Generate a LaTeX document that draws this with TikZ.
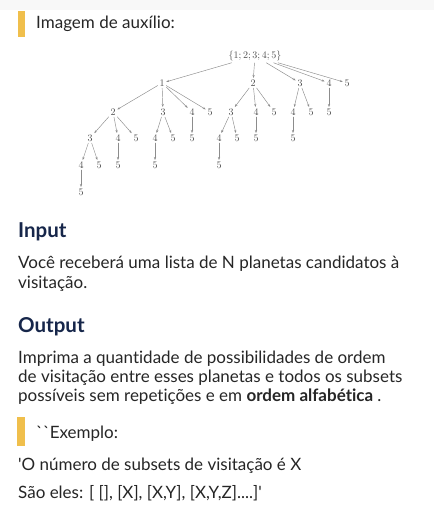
\documentclass[tikz,border=0pt]{standalone}
\usepackage{fontspec}
\setmainfont{Lato}[Ligatures={NoCommon}]
\usetikzlibrary{arrows.meta}
\definecolor{barYellow}{HTML}{F0BF4C}
\definecolor{headNavy}{HTML}{16264A}
\definecolor{bodyInk}{HTML}{262626}
\definecolor{stripGray}{HTML}{F8F8F8}
\tikzset{
  tnode/.style={font=\fontsize{9.6}{10}\selectfont,text=black!70,inner sep=1.6pt},
  tedge/.style={->,black!45,line width=0.45pt},
  bodytxt/.style={anchor=base west,inner sep=0pt,text=bodyInk,font=\fontsize{17}{19}\selectfont},
  headtxt/.style={anchor=base west,inner sep=0pt,text=headNavy,font=\fontsize{20.5}{24}\selectfont\bfseries}
}

\begin{document}
\begin{tikzpicture}[x=1pt,y=-1pt,>={Stealth[length=3pt,width=2.2pt]},line cap=round,line join=round]
\useasboundingbox[fill=white] (0,0) rectangle (434,513);
\fill[stripGray] (0,0) rectangle (434,10);
% quote bars
\fill[barYellow] (18,11) rectangle (25,37);
\fill[barYellow] (17,417) rectangle (25,446);
\node[bodytxt] (cap) at (36,29) {Imagem de auxílio:};
% tree of subsets
\node[tnode] (r) at (255,56) {$\{1;2;3;4;5\}$};
\node[tnode] (a1) at (162,83) {$1$};
\node[tnode] (a2) at (253,83) {$2$};
\node[tnode] (a3) at (300,83) {$3$};
\node[tnode] (a4) at (329,83) {$4$};
\node[tnode] (a5) at (347,83) {$5$};
\node[tnode] (a12) at (113,112) {$2$};
\node[tnode] (a13) at (163,112) {$3$};
\node[tnode] (a14) at (192,112) {$4$};
\node[tnode] (a15) at (210,112) {$5$};
\node[tnode] (a23) at (231,112) {$3$};
\node[tnode] (a24) at (256,112) {$4$};
\node[tnode] (a25) at (274,112) {$5$};
\node[tnode] (a34) at (293,112) {$4$};
\node[tnode] (a35) at (311,112) {$5$};
\node[tnode] (a45) at (329,112) {$5$};
\node[tnode] (a123) at (90,138) {$3$};
\node[tnode] (a124) at (118,138) {$4$};
\node[tnode] (a125) at (136,138) {$5$};
\node[tnode] (a134) at (155,138) {$4$};
\node[tnode] (a135) at (173,138) {$5$};
\node[tnode] (a145) at (192,138) {$5$};
\node[tnode] (a234) at (219,138) {$4$};
\node[tnode] (a235) at (237,138) {$5$};
\node[tnode] (a245) at (256,138) {$5$};
\node[tnode] (a345) at (293,138) {$5$};
\node[tnode] (a1234) at (81,165) {$4$};
\node[tnode] (a1235) at (99,165) {$5$};
\node[tnode] (a1245) at (118,165) {$5$};
\node[tnode] (a1345) at (155,165) {$5$};
\node[tnode] (a2345) at (219,165) {$5$};
\node[tnode] (a12345) at (81,192) {$5$};
\draw[tedge] (r) -- (a1);
\draw[tedge] (r) -- (a2);
\draw[tedge] (r) -- (a3);
\draw[tedge] (r) -- (a4);
\draw[tedge] (r) -- (a5);
\draw[tedge] (a1) -- (a12);
\draw[tedge] (a1) -- (a13);
\draw[tedge] (a1) -- (a14);
\draw[tedge] (a1) -- (a15);
\draw[tedge] (a2) -- (a23);
\draw[tedge] (a2) -- (a24);
\draw[tedge] (a2) -- (a25);
\draw[tedge] (a3) -- (a34);
\draw[tedge] (a3) -- (a35);
\draw[tedge] (a4) -- (a45);
\draw[tedge] (a12) -- (a123);
\draw[tedge] (a12) -- (a124);
\draw[tedge] (a12) -- (a125);
\draw[tedge] (a13) -- (a134);
\draw[tedge] (a13) -- (a135);
\draw[tedge] (a14) -- (a145);
\draw[tedge] (a23) -- (a234);
\draw[tedge] (a23) -- (a235);
\draw[tedge] (a24) -- (a245);
\draw[tedge] (a34) -- (a345);
\draw[tedge] (a123) -- (a1234);
\draw[tedge] (a123) -- (a1235);
\draw[tedge] (a124) -- (a1245);
\draw[tedge] (a134) -- (a1345);
\draw[tedge] (a234) -- (a2345);
\draw[tedge] (a1234) -- (a12345);
% text below the tree
\node[headtxt] (hin) at (18,237) {Input};
\node[bodytxt] (in1) at (18,268) {Você receberá uma lista de N planetas candidatos à};
\node[bodytxt] (in2) at (18,288) {visitação.};
\node[headtxt] (hout) at (18,332) {Output};
\node[bodytxt] (out1) at (18,363) {Imprima a quantidade de possibilidades de ordem};
\node[bodytxt] (out2) at (18,382) {de visitação entre esses planetas e todos os subsets};
\node[bodytxt] (out3) at (18,401) {possíveis sem repetições e em \textbf{ordem alfabética} .};
\node[bodytxt] (ex) at (36,438) {\textasciigrave\textasciigrave Exemplo:};
\node[bodytxt] (ex1) at (18,470) {\textquotesingle O número de subsets de visitação é X};
\node[bodytxt] (ex2) at (18,498) {São eles: [ [], [X], [X,Y], [X,Y,Z]....]\textquotesingle};
\end{tikzpicture}
\end{document}
